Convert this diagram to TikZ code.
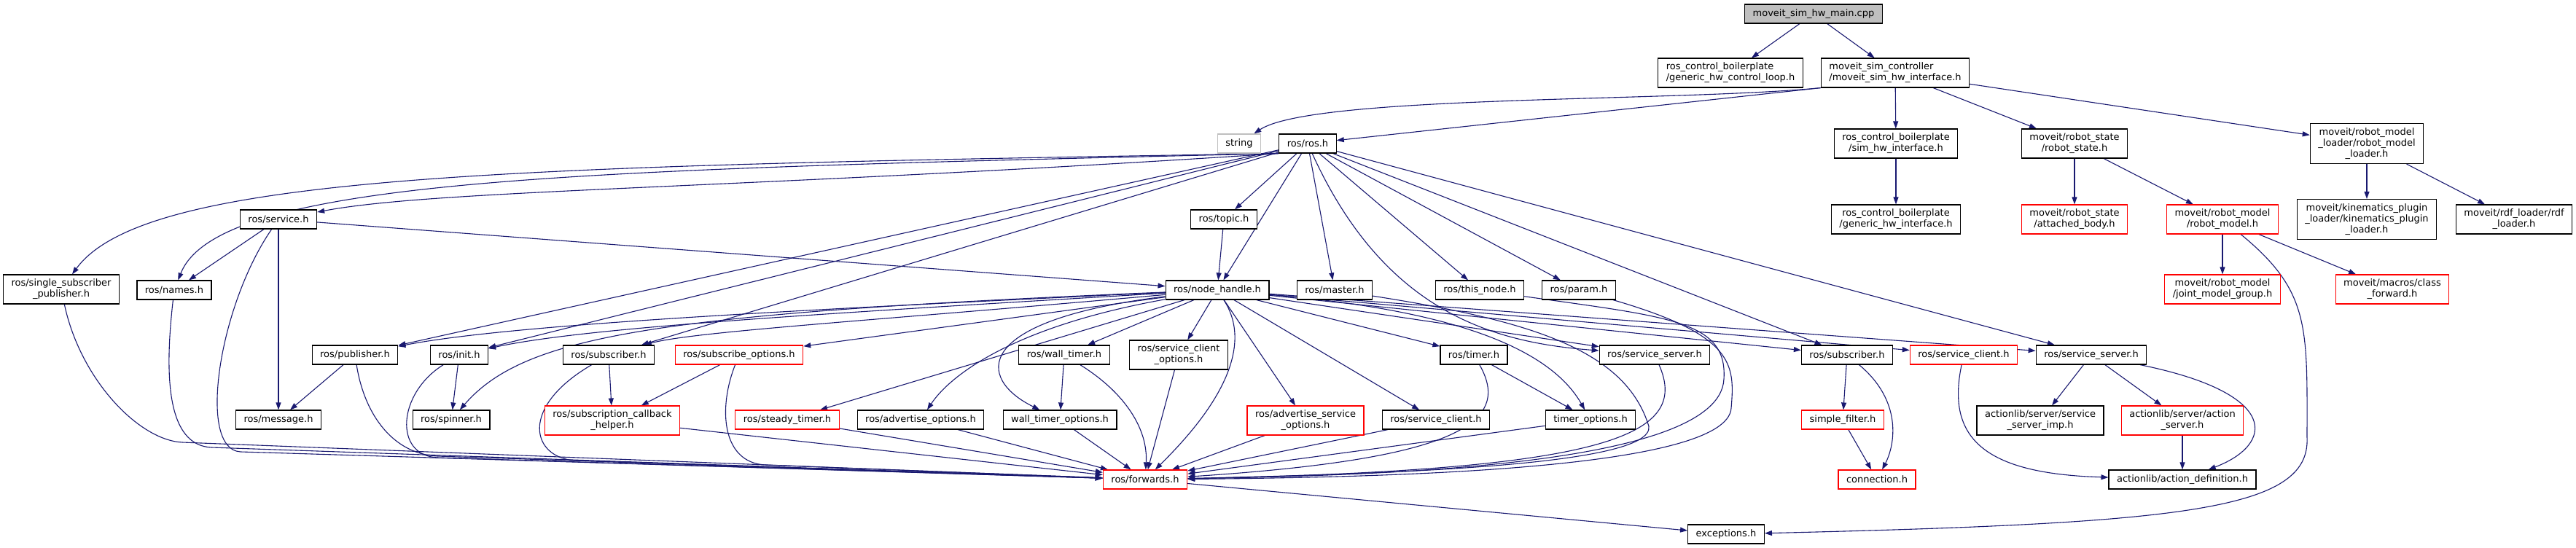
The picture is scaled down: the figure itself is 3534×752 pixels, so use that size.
\documentclass[tikz,border=0pt]{standalone}
\usepackage{fontspec}
\setmainfont{DejaVu Sans}
\usetikzlibrary{arrows.meta,backgrounds}
\definecolor{edgeblue}{RGB}{25,25,112}
\begin{document}
\begin{tikzpicture}
  [x=1pt,y=1pt,every node/.style={draw,fill=white,line width=1.2pt,align=center,
   inner xsep=11pt,inner ysep=6pt,minimum height=26pt,font=\fontsize{13}{15}\selectfont}]
  \tikzstyle{trunc} = [draw=red]
  \tikzstyle{root} = [fill=gray!50]
  \tikzstyle{sys} = [draw=gray!50]
  \tikzstyle{link} = [edgeblue,line width=1.1pt,-{Triangle[length=10pt,width=7pt]}]
  \useasboundingbox (0,0) rectangle (3534,-752);
  % top rows
  \node[root] (main) at (2488,-19) {moveit\_sim\_hw\_main.cpp};
  \node[align=left] (loop) at (2374,-100) {ros\_control\_boilerplate\\/generic\_hw\_control\_loop.h};
  \node[align=left] (simif) at (2600,-100) {moveit\_sim\_controller\\/moveit\_sim\_hw\_interface.h};
  \node[sys] (string) at (1700,-197) {string};
  \node (ros) at (1794,-197) {ros/ros.h};
  \node (simhw) at (2601,-197) {ros\_control\_boilerplate\\/sim\_hw\_interface.h};
  \node (rstate) at (2846,-197) {moveit/robot\_state\\/robot\_state.h};
  \node (rmloader) at (3247,-197) {moveit/robot\_model\\\_loader/robot\_model\\\_loader.h};
  \node (service) at (382,-301) {ros/service.h};
  \node (topic) at (1679,-301) {ros/topic.h};
  \node (genhw) at (2601,-301) {ros\_control\_boilerplate\\/generic\_hw\_interface.h};
  \node[trunc] (attached) at (2846,-301) {moveit/robot\_state\\/attached\_body.h};
  \node[trunc] (rmodel) at (3049,-301) {moveit/robot\_model\\/robot\_model.h};
  \node (kinplug) at (3247,-301) {moveit/kinematics\_plugin\\\_loader/kinematics\_plugin\\\_loader.h};
  \node (rdf) at (3449,-301) {moveit/rdf\_loader/rdf\\\_loader.h};
  % middle rows
  \node (ssp) at (84,-397) {ros/single\_subscriber\\\_publisher.h};
  \node (names) at (239,-398) {ros/names.h};
  \node (nh) at (1670,-398) {ros/node\_handle.h};
  \node (master) at (1831,-398) {ros/master.h};
  \node (thisnode) at (2030,-398) {ros/this\_node.h};
  \node (param) at (2166,-398) {ros/param.h};
  \node[trunc] (jmg) at (3049,-397) {moveit/robot\_model\\/joint\_model\_group.h};
  \node[trunc] (classfwd) at (3282,-397) {moveit/macros/class\\\_forward.h};
  \node (publisher) at (487,-487) {ros/publisher.h};
  \node (init) at (630,-487) {ros/init.h};
  \node (subL) at (835,-487) {ros/subscriber.h};
  \node[trunc] (subopts) at (1014,-487) {ros/subscribe\_options.h};
  \node (walltimer) at (1460,-487) {ros/wall\_timer.h};
  \node (sco) at (1617,-487) {ros/service\_client\\\_options.h};
  \node (timer) at (2022,-487) {ros/timer.h};
  \node (ssL) at (2270,-487) {ros/service\_server.h};
  \node (subR) at (2534,-487) {ros/subscriber.h};
  \node[trunc] (scR) at (2694,-487) {ros/service\_client.h};
  \node (ssR) at (2869,-487) {ros/service\_server.h};
  % lower rows
  \node (message) at (382,-576) {ros/message.h};
  \node (spinner) at (619,-576) {ros/spinner.h};
  \node[trunc] (sch) at (840,-577) {ros/subscription\_callback\\\_helper.h};
  \node[trunc] (steady) at (1080,-576) {ros/steady\_timer.h};
  \node (advopts) at (1263,-576) {ros/advertise\_options.h};
  \node (wto) at (1454,-576) {wall\_timer\_options.h};
  \node[trunc] (asopts) at (1791,-577) {ros/advertise\_service\\\_options.h};
  \node (scB) at (1970,-576) {ros/service\_client.h};
  \node (tto) at (2182,-576) {timer\_options.h};
  \node[trunc] (sfilter) at (2528,-576) {simple\_filter.h};
  \node (ssimp) at (2799,-577) {actionlib/server/service\\\_server\_imp.h};
  \node[trunc] (aserver) at (2994,-577) {actionlib/server/action\\\_server.h};
  \node[trunc] (fwd) at (1571,-658) {ros/forwards.h};
  \node[trunc] (conn) at (2575,-658) {connection.h};
  \node (adef) at (2994,-658) {actionlib/action\_definition.h};
  \node (exc) at (2368,-733) {exceptions.h};
  \begin{pgfonlayer}{background}
  % straight includes
  \foreach \source/\dest in {main/loop,main/simif,simif.south west/ros,simif/simhw,simif/rstate,simif/rmloader,
    simhw/genhw,rstate/attached,rstate/rmodel,rmloader/kinplug,rmloader/rdf,rmodel/jmg,rmodel/classfwd,
    ros/topic,ros/nh,ros/master,ros/thisnode,ros/param,ros/subR,ros/ssR,ros/publisher,ros/init,ros/subL,
    service/names,service/message,service/nh,topic/nh,
    nh/subopts,nh/steady,nh/walltimer,nh/sco,nh/asopts,nh/scB,nh/timer,nh/ssL,nh/subR,nh/scR,nh/ssR,
    publisher/message,init/spinner,subL/sch,subopts/sch,walltimer/wto,timer/tto,
    subR/sfilter,sfilter/conn,ssR/ssimp,ssR/aserver,aserver/adef,
    sch/fwd,steady/fwd,advopts/fwd,wto/fwd,sco/fwd,asopts/fwd,scB/fwd,tto/fwd,fwd/exc}
   \draw[link] (\source) -- (\dest);
  % routed includes
  \foreach \source/\dest/\ax/\ay/\bx/\by in {simif.south west/string/2300/-140/1800/-130,
    ros.south west/ssp/700/-228/200/-238,ros.south west/names/800/-233/300/-243,
    ros.south west/service/1000/-260/600/-260,
    ros/ssL/1900/-430/2050/-470,nh/tto/1900/-418/2110/-450,nh/wto/1330/-440/1340/-520,
    nh/advopts/1380/-450/1300/-520,nh/spinner/900/-430/720/-460,nh/publisher/1100/-425/700/-445,
    nh/init/1100/-432/800/-450,nh/subL/1200/-440/950/-455,nh/fwd/1730/-490/1640/-590,
    walltimer/fwd/1545/-540/1575/-590,ssL/fwd/2320/-600/2200/-645,timer/fwd/2075/-580/2000/-630,
    subR/conn/2610/-550/2600/-610,ssR/adef/3130/-540/3120/-610,scR/adef/2670/-600/2720/-650}
   \draw[link] (\source) .. controls (\ax,\ay) and (\bx,\by) .. (\dest);
  % sweeping into ros/forwards.h from the left
  \foreach \source/\ax/\ay/\vx/\vy in {ssp/110/-520/250/-607,names/225/-520/290/-614,
    service/300/-420/330/-620,publisher/500/-570/600/-626,init/545/-540/600/-628,
    subL/710/-560/790/-632,subopts/985/-560/1050/-638}
   \draw[link] (\source) .. controls (\ax,\ay) and +(-60,3) .. (\vx,\vy) -- (fwd);
  % long detours round the right
  \draw[link] (master) .. controls (2100,-440) and (2230,-480) .. (2262,-585)
    .. controls (2270,-640) and (1900,-650) .. (fwd);
  \draw[link] (thisnode) .. controls (2290,-435) and (2370,-440) .. (2365,-520)
    .. controls (2360,-640) and (1900,-652) .. (fwd);
  \draw[link] (param) .. controls (2380,-460) and (2380,-500) .. (2375,-560)
    .. controls (2370,-645) and (1900,-655) .. (fwd);
  \draw[link] (rmodel) .. controls (3170,-400) and (3165,-450) .. (3165,-600)
    .. controls (3170,-700) and (3000,-718) .. (exc);
  \end{pgfonlayer}
\end{tikzpicture}
\end{document}
